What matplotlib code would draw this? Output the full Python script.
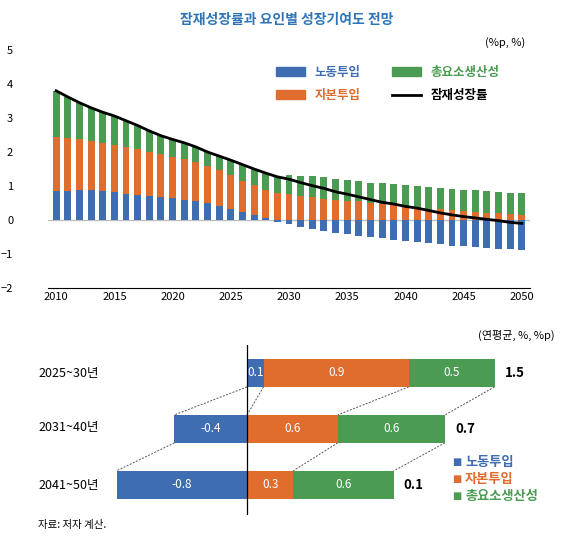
import matplotlib
matplotlib.use("Agg")
import matplotlib.pyplot as plt
from matplotlib.patches import Patch
from matplotlib.lines import Line2D

plt.rcParams['font.family'] = ['Noto Sans CJK KR', 'DejaVu Sans']

years = list(range(2010, 2051))
labor = [0.85,0.86,0.87,0.87,0.86,0.81,0.77,0.75,0.71,0.67,0.64,0.60,0.56,0.51,0.42,0.33,0.24,0.15,0.06,-0.05,
         -0.12,-0.20,-0.27,-0.33,-0.38,-0.42,-0.46,-0.50,-0.54,-0.58,-0.62,-0.65,-0.68,-0.72,-0.75,-0.77,-0.79,-0.82,-0.84,-0.86,-0.87]
capital = [1.58,1.55,1.51,1.45,1.41,1.39,1.38,1.33,1.30,1.27,1.22,1.20,1.16,1.09,1.04,0.99,0.91,0.88,0.82,0.80,
           0.76,0.71,0.67,0.63,0.60,0.57,0.55,0.51,0.47,0.43,0.38,0.36,0.33,0.32,0.30,0.27,0.24,0.22,0.20,0.18,0.16]
tfp = [1.37,1.21,1.07,0.98,0.90,0.86,0.77,0.70,0.61,0.54,0.51,0.47,0.43,0.40,0.42,0.44,0.48,0.47,0.50,0.47,
       0.57,0.59,0.61,0.63,0.61,0.61,0.59,0.59,0.61,0.62,0.64,0.64,0.63,0.61,0.60,0.60,0.63,0.62,0.62,0.61,0.62]
growth = [3.80,3.62,3.45,3.30,3.17,3.06,2.92,2.78,2.62,2.48,2.37,2.27,2.15,2.00,1.88,1.76,1.63,1.50,1.38,1.27,
          1.20,1.10,1.01,0.93,0.83,0.76,0.68,0.60,0.52,0.47,0.40,0.35,0.28,0.21,0.15,0.10,0.06,0.02,-0.02,-0.07,-0.10]

periods = ['2025~30년', '2031~40년', '2041~50년']
p_labor = [0.10, -0.44, -0.79]
p_capital = [0.88, 0.55, 0.28]
p_tfp = [0.52, 0.65, 0.61]
lab_labor = ['0.1', '-0.4', '-0.8']
lab_capital = ['0.9', '0.6', '0.3']
lab_tfp = ['0.5', '0.6', '0.6']
lab_total = ['1.5', '0.7', '0.1']

BLUE = '#3E6DB2'
ORANGE = '#E06C2E'
GREEN = '#4B9B52'

fig = plt.figure(figsize=(5.73, 5.57), dpi=100)
W, H = 573, 557

fig.text(0.5, 1 - 20/H, '잠재성장률과 요인별 성장기여도 전망', ha='center', va='center',
         fontsize=10, fontweight='bold', color='#2F75B5')

ax = fig.add_axes([48/W, 1-288/H, 482/W, 238/H])
bl = [l if l > 0 else 0 for l in labor]
bn = [l if l < 0 else 0 for l in labor]
ax.bar(years, labor, width=0.6, color=BLUE, zorder=2)
ax.bar(years, capital, width=0.6, bottom=bl, color=ORANGE, zorder=2)
ax.bar(years, tfp, width=0.6, bottom=[b + c for b, c in zip(bl, capital)], color=GREEN, zorder=2)
ax.plot(years, growth, color='black', lw=2, zorder=3)
ax.axhline(0, color='#BFBFBF', lw=1, zorder=1)
ax.set_ylim(-2, 5)
ax.set_xlim(2009.3, 2050.7)
ax.set_xticks(range(2010, 2051, 5))
ax.set_yticks(range(-2, 6))
for s in ['top', 'right', 'left']:
    ax.spines[s].set_visible(False)
ax.spines['bottom'].set_color('black')
ax.tick_params(axis='both', length=0, labelsize=8)
ax.tick_params(axis='x', pad=3)
ax.tick_params(axis='y', pad=25)
fig.text(525/W, 1-43/H, '(%p, %)', ha='right', va='center', fontsize=8)
handles = [Patch(color=BLUE), Patch(color=ORANGE), Patch(color=GREEN), Line2D([], [], color='black', lw=2)]
names = ['노동투입', '자본투입', '총요소생산성', '잠재성장률']
leg = ax.legend(handles, names, ncol=2, frameon=False, loc='upper left',
                bbox_to_anchor=(0.45, 0.98), fontsize=9, handlelength=2.3, handleheight=0.7,
                columnspacing=2.5, labelspacing=0.8)
for t, c in zip(leg.get_texts(), [BLUE, ORANGE, GREEN, 'black']):
    t.set_color(c); t.set_fontweight('bold')

# bottom chart
ax2 = fig.add_axes([100/W, 1-515/H, 460/W, 170/H])
scale = 165.0
ax2.set_xlim((100-247)/scale, (560-247)/scale)
ax2.set_ylim(2.54, -0.5)
ax2.axis('off')
hgt = 0.5
edges_all = []
for i in range(3):
    l, c, t = p_labor[i], p_capital[i], p_tfp[i]
    if l >= 0:
        segs = [(0, l, BLUE, lab_labor[i]), (l, l + c, ORANGE, lab_capital[i]), (l + c, l + c + t, GREEN, lab_tfp[i])]
        edges = [0, l, l + c, l + c + t]
    else:
        segs = [(l, 0, BLUE, lab_labor[i]), (0, c, ORANGE, lab_capital[i]), (c, c + t, GREEN, lab_tfp[i])]
        edges = [l, 0, c, c + t]
    edges_all.append(edges)
    for a, b, col, lab in segs:
        ax2.barh(i, b - a, left=a, height=hgt, color=col, zorder=2)
        ax2.text((a + b) / 2, i, lab, ha='center', va='center', color='white', fontsize=8.5, zorder=3)
    ax2.text(edges[-1] + 0.06, i, lab_total[i], ha='left', va='center', fontsize=9.5, fontweight='bold')
    fig.text(38/W, 0, '')
for i in range(2):
    e1, e2 = edges_all[i], edges_all[i + 1]
    if e1[0] == 0:
        pairs = [(e1[0], e2[0]), (e1[1], e2[1]), (e1[2], e2[2]), (e1[3], e2[3])]
    else:
        pairs = list(zip(e1, e2))
    for a, b in pairs:
        ax2.plot([a, b], [i + hgt/2, i + 1 - hgt/2], ls=(0, (2, 1.5)), color='#555555', lw=0.7, zorder=1)
ax2.plot([0, 0], [-0.5, 2.54], color='black', lw=0.9, zorder=4)
for i, p in enumerate(periods):
    ax2.text(-0.89 - 0.02, i, '', ha='right')
ys = [373, 428, 485]
for p, y in zip(periods, ys):
    fig.text(38/W, 1 - y/H, p, ha='left', va='center', fontsize=9)
fig.text(555/W, 1-335/H, '(연평균, %, %p)', ha='right', va='center', fontsize=8)
for k, (n, c) in enumerate(zip(names[:3], [BLUE, ORANGE, GREEN])):
    y = 462 + k * 17
    fig.text(452/W, 1 - y/H, '■', color=c, fontsize=7, va='center', family=['DejaVu Sans'])
    fig.text(465/W, 1 - y/H, n, color=c, fontsize=9.5, fontweight='bold', va='center')
fig.text(38/W, 1-525/H, '자료: 저자 계산.', fontsize=7.5, va='center')

fig.savefig('out.png', dpi=100)
